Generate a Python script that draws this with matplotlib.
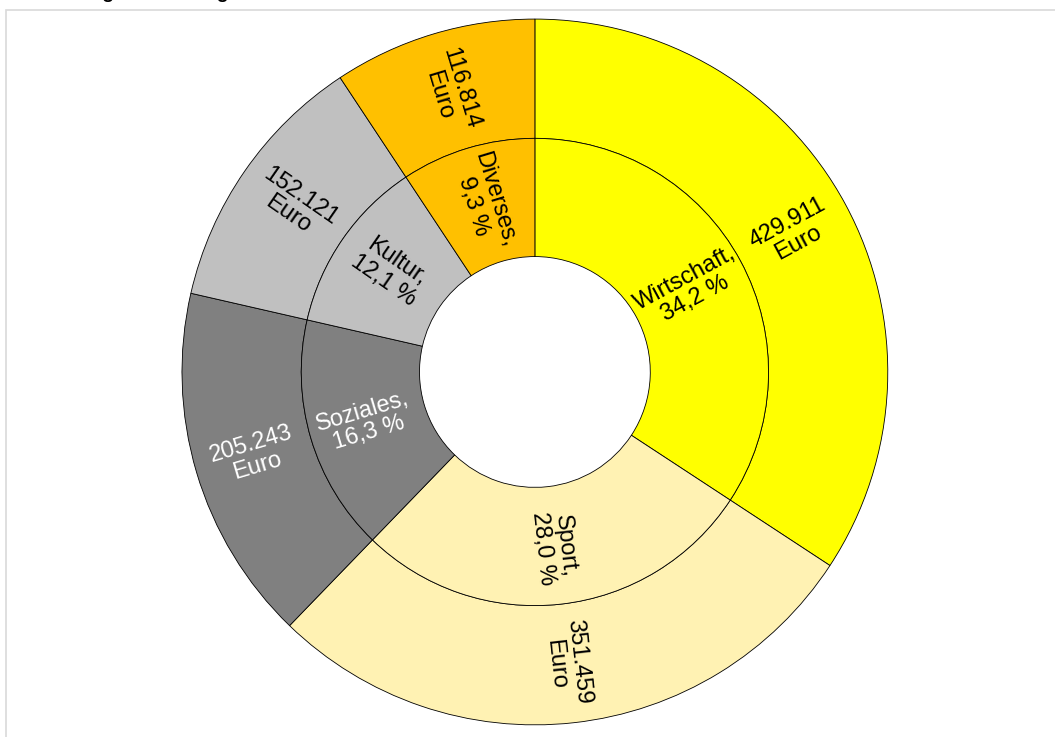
import matplotlib.pyplot as plt
from matplotlib.patches import Rectangle
import numpy as np

plt.rcParams['font.family'] = ['Liberation Sans', 'DejaVu Sans']

# Daten
bereiche = ['Wirtschaft', 'Sport', 'Soziales', 'Kultur', 'Diverses']
betraege = [429911, 351459, 205243, 152121, 116814]
prozent = ['34,2 %', '28,0 %', '16,3 %', '12,1 %', '9,3 %']
euro_labels = ['429.911', '351.459', '205.243', '152.121', '116.814']
farben = ['#FFFF00', '#FFF2B3', '#808080', '#C0C0C0', '#FFC000']
textfarben = ['black', 'black', 'white', 'black', 'black']

titel = 'Verteilung der Fördergelder nach Bereichen'

fig = plt.figure(figsize=(10.55, 7.37), dpi=100)

# grauer Rahmen
fig.patches.append(Rectangle((5.5 / 1055, -0.02), 1.05, 1 - 9.5 / 737 + 0.02,
                             transform=fig.transFigure, fill=False,
                             edgecolor='#d9d9d9', linewidth=1.2))
# Titel, oben abgeschnitten wie im Original
fig.text(20 / 1055, 1 + 2.5 / 737, titel, fontsize=14, fontweight='bold',
         va='baseline', ha='left')

ax = fig.add_axes([0.1725, 0.0163, 0.669, 0.958])

kw = dict(startangle=90, counterclock=False, colors=farben,
          wedgeprops=dict(edgecolor='black', linewidth=0.6))
outer, _ = ax.pie(betraege, radius=1.0, **kw)
inner, _ = ax.pie(betraege, radius=0.662, **kw)
for w in outer:
    w.set_width(1.0 - 0.662)
for w in inner:
    w.set_width(0.662 - 0.327)

def beschriften(wedges, r, texte):
    for w, t, c in zip(wedges, texte, textfarben):
        mid = (w.theta1 + w.theta2) / 2
        x = r * np.cos(np.radians(mid))
        y = r * np.sin(np.radians(mid))
        rot = mid % 360
        if 90 < rot <= 270:
            rot -= 180
        elif rot > 270:
            rot -= 360
        ax.text(x, y, t, rotation=rot, rotation_mode='anchor',
                ha='center', va='center', fontsize=17, color=c,
                linespacing=1.05)

beschriften(inner, 0.50, [f'{b},\n{p}' for b, p in zip(bereiche, prozent)])
beschriften(outer, 0.83, [f'{e}\nEuro' for e in euro_labels])

ax.set_xlim(-1, 1)
ax.set_ylim(-1, 1)
ax.set_aspect('equal')
ax.axis('off')

fig.savefig('out.png', dpi=100)
